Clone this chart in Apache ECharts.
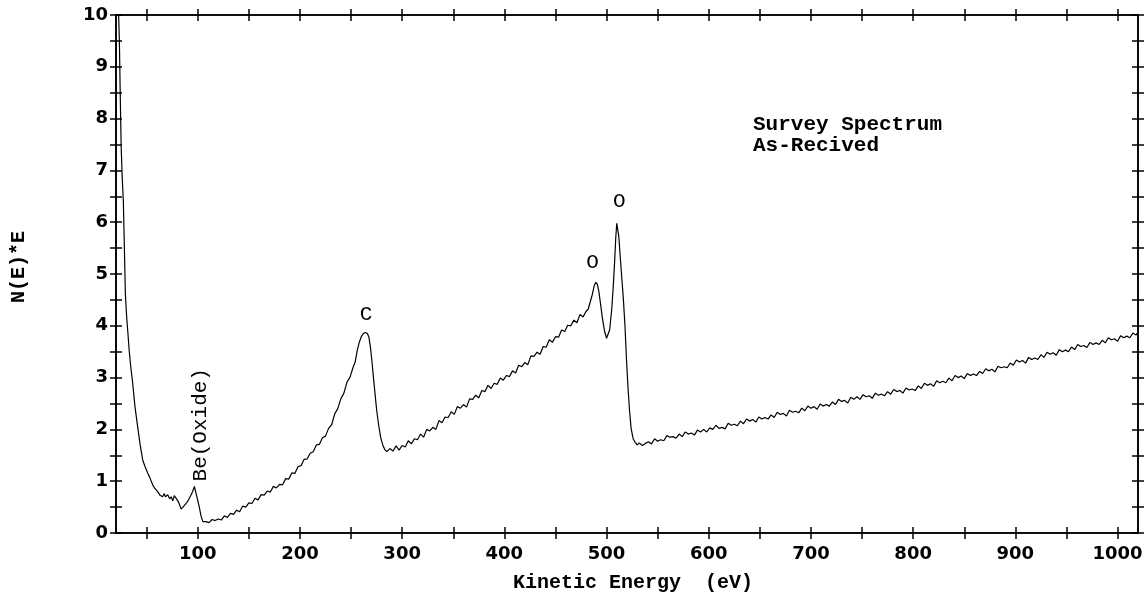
<!DOCTYPE html>
<html>
<head>
<meta charset="utf-8">
<script src="https://cdn.jsdelivr.net/npm/echarts@6/dist/echarts.min.js"></script>
<style>
  html, body { margin: 0; padding: 0; background: #fff; }
  #main { width: 1147px; height: 599px; }
</style>
</head>
<body>
<div id="main"></div>
<script>
// kinetic energy (eV) and N(E)*E
var energy = [
  22.3, 23.3, 24.2, 25, 26, 27.2, 28.2, 29.2, 30.5, 31.5, 33, 34.5, 36.3, 38.5, 41.2, 43.5, 46.1, 48.5,
  51, 53.5, 55.9, 58, 60.8, 63, 65.7, 67, 68.5, 70.6, 72.5, 74, 75.5, 77, 78.8, 80.5, 82, 83.7, 85.5,
  87, 89, 91, 93, 95, 96.7, 98.5, 100, 101.5, 103.3, 105, 106.5,
  108, 111, 114, 117, 120, 123, 126, 129, 132, 135, 138, 141, 144, 147, 150, 153, 156, 159, 162, 165,
  168, 171, 174, 177, 180, 183, 186, 189, 192, 195, 198, 201, 204, 207, 210, 213, 216, 219, 222, 225,
  228, 231, 234, 237, 240, 243, 246, 249, 252, 254, 256, 258, 260, 262, 264, 266, 267.5, 269, 270.5,
  272, 273.5, 275, 277, 279, 281, 283, 285,
  288, 291, 294, 297, 300, 303, 306, 309, 312, 315, 318, 321, 324, 327, 330, 333, 336, 339, 342, 345,
  348, 351, 354, 357, 360, 363, 366, 369, 372, 375, 378, 381, 384, 387, 390, 393, 396, 399, 402, 405,
  408, 411, 414, 417, 420, 423, 426, 429, 432, 435, 438, 441, 444, 447, 450, 453, 456, 459, 462, 465,
  468, 471, 474, 477, 480, 482, 484, 486, 488, 489.5, 491, 492.5, 494, 496, 498, 500, 501.5, 503, 505,
  506.5, 508, 509, 510, 511, 512, 513.5, 515, 516.5, 518, 519.5, 521, 522.5, 524, 526, 528, 530, 532,
  535, 538,
  541, 544, 547, 550, 553, 556, 559, 562, 565, 568, 571, 574, 577, 580, 583, 586, 589, 592, 595, 598,
  601, 604, 607, 610, 613, 616, 619, 622, 625, 628, 631, 634, 637, 640, 643, 646, 649, 652, 655, 658,
  661, 664, 667, 670, 673, 676, 679, 682, 685, 688, 691, 694, 697, 700, 703, 706, 709, 712, 715, 718,
  721, 724, 727, 730, 733, 736, 739, 742,
  745, 748, 751, 754, 757, 760, 763, 766, 769, 772, 775, 778, 781, 784, 787, 790, 793, 796, 799, 802,
  805, 808, 811, 814, 817, 820, 823, 826, 829, 832, 835, 838, 841, 844, 847, 850, 853, 856, 859, 862,
  865, 868, 871, 874, 877, 880, 883, 886, 889, 892, 895, 898, 901, 904, 907, 910, 913, 916, 919, 922,
  925, 928, 931, 934, 937, 940, 943, 946, 949, 952, 955, 958, 961, 964, 967, 970, 973, 976, 979, 982,
  985, 988, 991, 994, 997, 1000, 1003, 1006, 1009, 1012, 1015, 1018, 1020
];
var counts = [
  10.2, 9.5, 8.4, 7.5, 6.9, 6.4, 5.5, 4.6, 4.15, 3.9, 3.5, 3.2, 2.9, 2.45, 2.05, 1.72, 1.41, 1.28,
  1.16, 1.05, 0.93, 0.86, 0.80, 0.73, 0.70, 0.76, 0.70, 0.74, 0.66, 0.70, 0.62, 0.72, 0.70, 0.62, 0.56, 0.46, 0.50,
  0.49, 0.58, 0.64, 0.72, 0.80, 0.90, 0.75, 0.63, 0.50, 0.32, 0.22, 0.19,
  0.22, 0.20, 0.26, 0.24, 0.27, 0.25, 0.33, 0.30, 0.38, 0.36, 0.44, 0.41, 0.52, 0.50, 0.58, 0.57, 0.67, 0.64, 0.74, 0.73,
  0.81, 0.79, 0.90, 0.87, 0.94, 0.93, 1.05, 1.04, 1.16, 1.15, 1.28, 1.30, 1.42, 1.43, 1.54, 1.57, 1.70, 1.71, 1.84, 1.87,
  2.02, 2.09, 2.30, 2.40, 2.59, 2.70, 2.91, 3.01, 3.20, 3.30, 3.52, 3.68, 3.79, 3.85, 3.87, 3.85, 3.78, 3.58, 3.30,
  2.98, 2.68, 2.38, 2.08, 1.84, 1.70, 1.61, 1.57,
  1.63, 1.58, 1.68, 1.60, 1.69, 1.66, 1.78, 1.72, 1.82, 1.80, 1.91, 1.85, 2.00, 1.97, 2.04, 2.00, 2.17, 2.13, 2.24, 2.23,
  2.34, 2.29, 2.44, 2.41, 2.48, 2.43, 2.59, 2.58, 2.66, 2.61, 2.75, 2.73, 2.85, 2.79, 2.89, 2.87, 2.99, 2.95, 3.04, 3.02,
  3.13, 3.09, 3.24, 3.21, 3.29, 3.25, 3.42, 3.41, 3.49, 3.45, 3.60, 3.59, 3.73, 3.68, 3.79, 3.78, 3.92, 3.89, 4.01, 4.00,
  4.11, 4.06, 4.22, 4.17, 4.28, 4.32, 4.46, 4.60, 4.78, 4.84, 4.80, 4.66, 4.44, 4.14, 3.90, 3.76, 3.74, 3.92, 4.30,
  4.74, 5.28, 5.70, 5.98, 5.96, 5.72, 5.30, 4.90, 4.50, 4.00, 3.35, 2.80, 2.36, 2.02, 1.82, 1.75, 1.70, 1.74,
  1.69, 1.73,
  1.76, 1.72, 1.82, 1.77, 1.80, 1.78, 1.88, 1.85, 1.86, 1.83, 1.91, 1.86, 1.95, 1.91, 1.93, 1.89, 1.99, 1.95, 2.00, 1.95,
  2.03, 2.00, 2.08, 2.02, 2.04, 2.01, 2.12, 2.08, 2.10, 2.07, 2.16, 2.11, 2.20, 2.16, 2.19, 2.14, 2.24, 2.20, 2.23, 2.20,
  2.28, 2.23, 2.33, 2.29, 2.31, 2.26, 2.37, 2.33, 2.35, 2.32, 2.41, 2.36, 2.45, 2.41, 2.44, 2.39, 2.49, 2.45, 2.48, 2.45,
  2.53, 2.48, 2.58, 2.54, 2.56, 2.51, 2.62, 2.58,
  2.63, 2.58, 2.67, 2.63, 2.65, 2.60, 2.70, 2.66, 2.68, 2.65, 2.73, 2.68, 2.77, 2.73, 2.75, 2.70, 2.80, 2.76, 2.78, 2.75,
  2.84, 2.79, 2.89, 2.85, 2.88, 2.83, 2.94, 2.90, 2.93, 2.90, 2.99, 2.94, 3.04, 3.00, 3.03, 2.98, 3.08, 3.04, 3.07, 3.04,
  3.12, 3.08, 3.17, 3.13, 3.16, 3.11, 3.22, 3.19, 3.21, 3.19, 3.28, 3.24, 3.34, 3.30, 3.33, 3.28, 3.39, 3.35, 3.38, 3.35,
  3.44, 3.39, 3.49, 3.45, 3.48, 3.43, 3.54, 3.50, 3.53, 3.50, 3.59, 3.54, 3.64, 3.60, 3.62, 3.58, 3.68, 3.64, 3.67, 3.64,
  3.72, 3.67, 3.77, 3.73, 3.75, 3.70, 3.81, 3.77, 3.80, 3.77, 3.86, 3.82, 3.88
];

var xTicks = [50, 100, 150, 200, 250, 300, 350, 400, 450, 500, 550, 600, 650, 700, 750, 800, 850, 900, 950, 1000];
var xLabels = [100, 200, 300, 400, 500, 600, 700, 800, 900, 1000];
var yTicks = [0, 0.5, 1, 1.5, 2, 2.5, 3, 3.5, 4, 4.5, 5, 5.5, 6, 6.5, 7, 7.5, 8, 8.5, 9, 9.5, 10];
var yLabels = [0, 1, 2, 3, 4, 5, 6, 7, 8, 9, 10];

// peak labels: [text, energy, value]
var peakNotes = [
  ['Be(Oxide)', 102.2, 2.09],
  ['C', 264.6, 4.21],
  ['O', 486.4, 5.22],
  ['O', 512.5, 6.40]
];

var mono = '"Liberation Mono", "Courier New", monospace';
var sans = '"DejaVu Sans", sans-serif';

var chart = echarts.init(document.getElementById('main'));

function plain(v) { return String(v); }

function xAx(pos, inside, withLabels) {
  return {
    type: 'value', position: pos, min: 20, max: 1020,
    axisLine: { show: true, onZero: false, lineStyle: { color: '#000', width: 1.6 } },
    axisTick: { show: true, inside: inside, length: 6, customValues: xTicks, lineStyle: { color: '#000', width: 1.5 } },
    axisLabel: withLabels ? {
      show: true, customValues: xLabels, formatter: plain, color: '#000',
      fontFamily: sans, fontWeight: 'bold', fontSize: 18, margin: 12
    } : { show: false },
    splitLine: { show: false }
  };
}
function yAx(pos, inside, withLabels) {
  return {
    type: 'value', position: pos, min: 0, max: 10,
    axisLine: { show: true, onZero: false, lineStyle: { color: '#000', width: 1.6 } },
    axisTick: { show: true, inside: inside, length: 6, customValues: yTicks, lineStyle: { color: '#000', width: 1.5 } },
    axisLabel: withLabels ? {
      show: true, customValues: yLabels, formatter: plain, color: '#000',
      fontFamily: sans, fontWeight: 'bold', fontSize: 18, margin: 8
    } : { show: false },
    splitLine: { show: false }
  };
}

var xMain = xAx('bottom', false, true);
xMain.name = 'Kinetic Energy  (eV)';
xMain.nameLocation = 'middle';
xMain.nameGap = 40;
xMain.nameTextStyle = { fontFamily: mono, fontWeight: 'bold', fontSize: 20, color: '#000', padding: [0, 0, 0, 12] };

var option = {
  backgroundColor: '#fff',
  animation: false,
  grid: { left: 116, right: 9, top: 15, bottom: 66, containLabel: false },
  xAxis: [xMain, xAx('bottom', true, false), xAx('top', false, false), xAx('top', true, false)],
  yAxis: [yAx('left', false, true), yAx('left', true, false), yAx('right', false, false), yAx('right', true, false)],
  graphic: [
    {
      type: 'text', x: 19, y: 267, rotation: Math.PI / 2,
      style: { text: 'N(E)*E', x: 0, y: 0, textAlign: 'center', textVerticalAlign: 'middle',
        font: 'bold 20px ' + mono, fill: '#000' }
    },
    {
      type: 'text', x: 753, y: 114,
      style: { text: 'Survey Spectrum\nAs-Recived', textAlign: 'left', textVerticalAlign: 'top',
        font: 'bold 21px ' + mono, lineHeight: 21, fill: '#000' }
    }
  ],
  series: [
    {
      type: 'line',
      xAxisIndex: 0, yAxisIndex: 0,
      data: energy.map(function (e, i) { return [e, counts[i]]; }),
      showSymbol: false,
      clip: true,
      lineStyle: { color: '#000', width: 1.2 },
      markPoint: {
        symbol: 'circle', symbolSize: 0,
        label: { show: true, position: 'inside', color: '#000', fontFamily: mono, fontSize: 21 },
        data: peakNotes.map(function (p) {
          return {
            coord: [p[1], p[2]], value: p[0],
            label: { formatter: p[0], rotate: p[0].length > 1 ? 90 : 0 }
          };
        })
      }
    }
  ]
};
chart.setOption(option);
</script>
</body>
</html>
